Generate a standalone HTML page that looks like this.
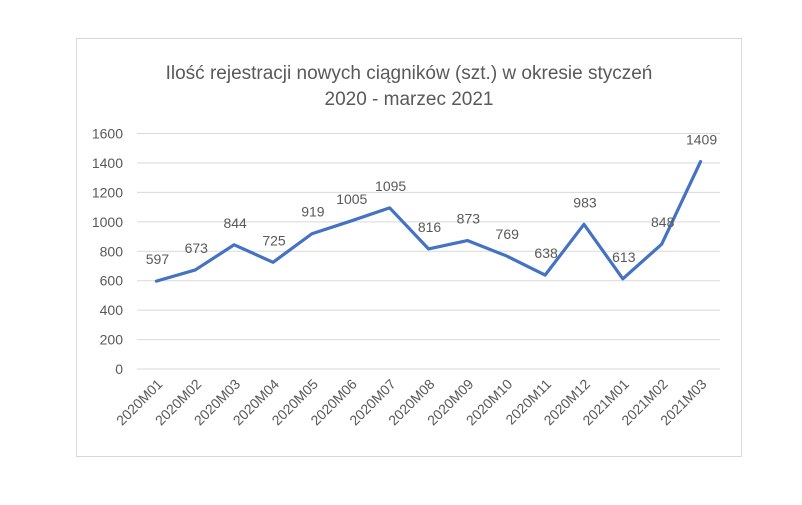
<!DOCTYPE html>
<html><head><meta charset="utf-8"><style>
body{margin:0;background:#fff;}
svg text{font-family:"Liberation Sans",sans-serif;fill:#595959;}
</style></head><body>
<svg width="802" height="500">
<rect x="76.5" y="38.5" width="665" height="418" fill="#fff" stroke="#d9d9d9"/>
<text x="409" y="79" font-size="19" text-anchor="middle">Ilość rejestracji nowych ciągników (szt.) w okresie styczeń</text>
<text x="409" y="105" font-size="19" text-anchor="middle">2020 - marzec 2021</text>
<g id="grid"></g><g id="xl"></g><g id="ser"></g>
</svg>
<script>
const categories=["2020M01","2020M02","2020M03","2020M04","2020M05","2020M06","2020M07","2020M08","2020M09","2020M10","2020M11","2020M12","2021M01","2021M02","2021M03"];
const values=[597,673,844,725,919,1005,1095,816,873,769,638,983,613,848,1409];
const yTicks=[0,200,400,600,800,1000,1200,1400,1600];
const NS="http://www.w3.org/2000/svg";
const x0=137,x1=720,yb=369,yt=133.5,ymax=1600;
const step=(x1-x0)/categories.length;
const X=i=>x0+step*(i+0.5);
const Y=v=>yb-(yb-yt)*v/ymax;
function mk(t,a,p){const e=document.createElementNS(NS,t);for(const k in a)e.setAttribute(k,a[k]);p.appendChild(e);return e;}
const g=document.getElementById('grid');
yTicks.forEach(v=>{
 const l=mk('line',{x1:x0,x2:x1,y1:Y(v),y2:Y(v),stroke:'#d9d9d9','stroke-width':1},g);
 
 
 const t=mk('text',{x:123,y:Y(v)+5,'font-size':14,'text-anchor':'end'},g);t.textContent=v;
 
 
});
const xl=document.getElementById('xl');
categories.forEach((c,i)=>{
 const t=mk('text',{x:X(i)+7,y:yb+16,'font-size':14,'text-anchor':'end',transform:`rotate(-45 ${X(i)+7} ${yb+16})`},xl);t.textContent=c;
 
 
});
const s=document.getElementById('ser');
const p=mk('polyline',{points:values.map((v,i)=>X(i)+','+Y(v)).join(' '),fill:'none',stroke:'#4472c4','stroke-width':3.2,'stroke-linejoin':'round','stroke-linecap':'round'},s);


values.forEach((v,i)=>{
 const t=mk('text',{x:X(i)+1,y:Y(v)-17,'font-size':14,'text-anchor':'middle'},s);t.textContent=v;
 
 
});
</script>
</body></html>
